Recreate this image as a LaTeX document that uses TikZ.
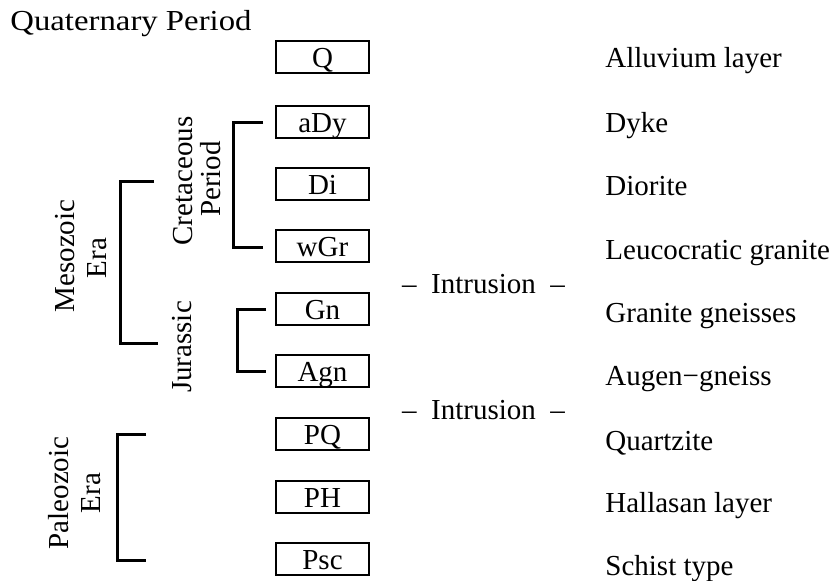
\documentclass[tikz,border=0pt]{standalone}
\usepackage{fontspec}
\setmainfont{Liberation Serif}
\begin{document}
\begin{tikzpicture}[x=0.5pt,y=-0.5pt,
  font=\fontsize{14.5}{17}\selectfont,
  unitbox/.style={draw, line width=0.6pt, minimum width=46.5pt, minimum height=16pt,
    inner sep=0pt, text height=10.5pt, text depth=0.5pt},
  rocklabel/.style={anchor=base west, inner sep=0pt},
  vlabel/.style={rotate=90, anchor=base, inner sep=0pt},
  brace/.style={line width=1.5pt, line join=miter}]
\useasboundingbox (0,0) rectangle (838,580);

\node[anchor=base west, inner sep=0pt] (quat) at (10,30) {\scalebox{1.13}[1]{Quaternary Period}};

% unit boxes
\node[unitbox] (Q)   at (322.5,57)  {Q};
\node[unitbox] (aDy) at (322.5,122) {aDy};
\node[unitbox] (Di)  at (322.5,184) {Di};
\node[unitbox] (wGr) at (322.5,246) {wGr};
\node[unitbox] (Gn)  at (322.5,309) {Gn};
\node[unitbox] (Agn) at (322.5,371) {Agn};
\node[unitbox] (PQ)  at (322.5,434) {PQ};
\node[unitbox] (PH)  at (322.5,497) {PH};
\node[unitbox] (Psc) at (322.5,559) {Psc};

% rock names
\node[rocklabel] (lQ)   at (605,67)  {Alluvium layer};
\node[rocklabel] (laDy) at (605,132) {Dyke};
\node[rocklabel] (lDi)  at (605,195) {Diorite};
\node[rocklabel] (lwGr) at (605,259) {Leucocratic granite};
\node[rocklabel] (lGn)  at (605,322) {Granite gneisses};
\node[rocklabel] (lAgn) at (605,385) {Augen−gneiss};
\node[rocklabel] (lPQ)  at (605,450) {Quartzite};
\node[rocklabel] (lPH)  at (605,512) {Hallasan layer};
\node[rocklabel] (lPsc) at (605,575) {Schist type};

% intrusion labels
\node[anchor=base, inner sep=0pt] (intr1) at (483.5,293) {–\ \ Intrusion\ \ –};
\node[anchor=base, inner sep=0pt] (intr2) at (483.5,419) {–\ \ Intrusion\ \ –};

% vertical labels
\node[vlabel] (cret)  at (192,181) {Cretaceous};
\node[vlabel] (cretp) at (220,179) {Period};
\node[vlabel] (jur)   at (191,347) {Jurassic};
\node[vlabel] (meso)  at (74,256)  {Mesozoic};
\node[vlabel] (mesoe) at (106,258) {Era};
\node[vlabel] (paleo) at (68,493)  {Paleozoic};
\node[vlabel] (paleoe) at (100,493) {Era};

% brackets
\coordinate (c1) at (263,122);
\coordinate (c2) at (263,247);
\draw[brace] (c1) -- (233,122) -- (233,247) -- (c2);
\coordinate (j1) at (266,309);
\coordinate (j2) at (266,371);
\draw[brace] (j1) -- (237,309) -- (237,371) -- (j2);
\coordinate (m1) at (154,181);
\coordinate (m2) at (158,343);
\draw[brace] (m1) -- (120,181) -- (120,343) -- (m2);
\coordinate (p1) at (146,434);
\coordinate (p2) at (146,560);
\draw[brace] (p1) -- (117,434) -- (117,560) -- (p2);
\end{tikzpicture}
\end{document}
